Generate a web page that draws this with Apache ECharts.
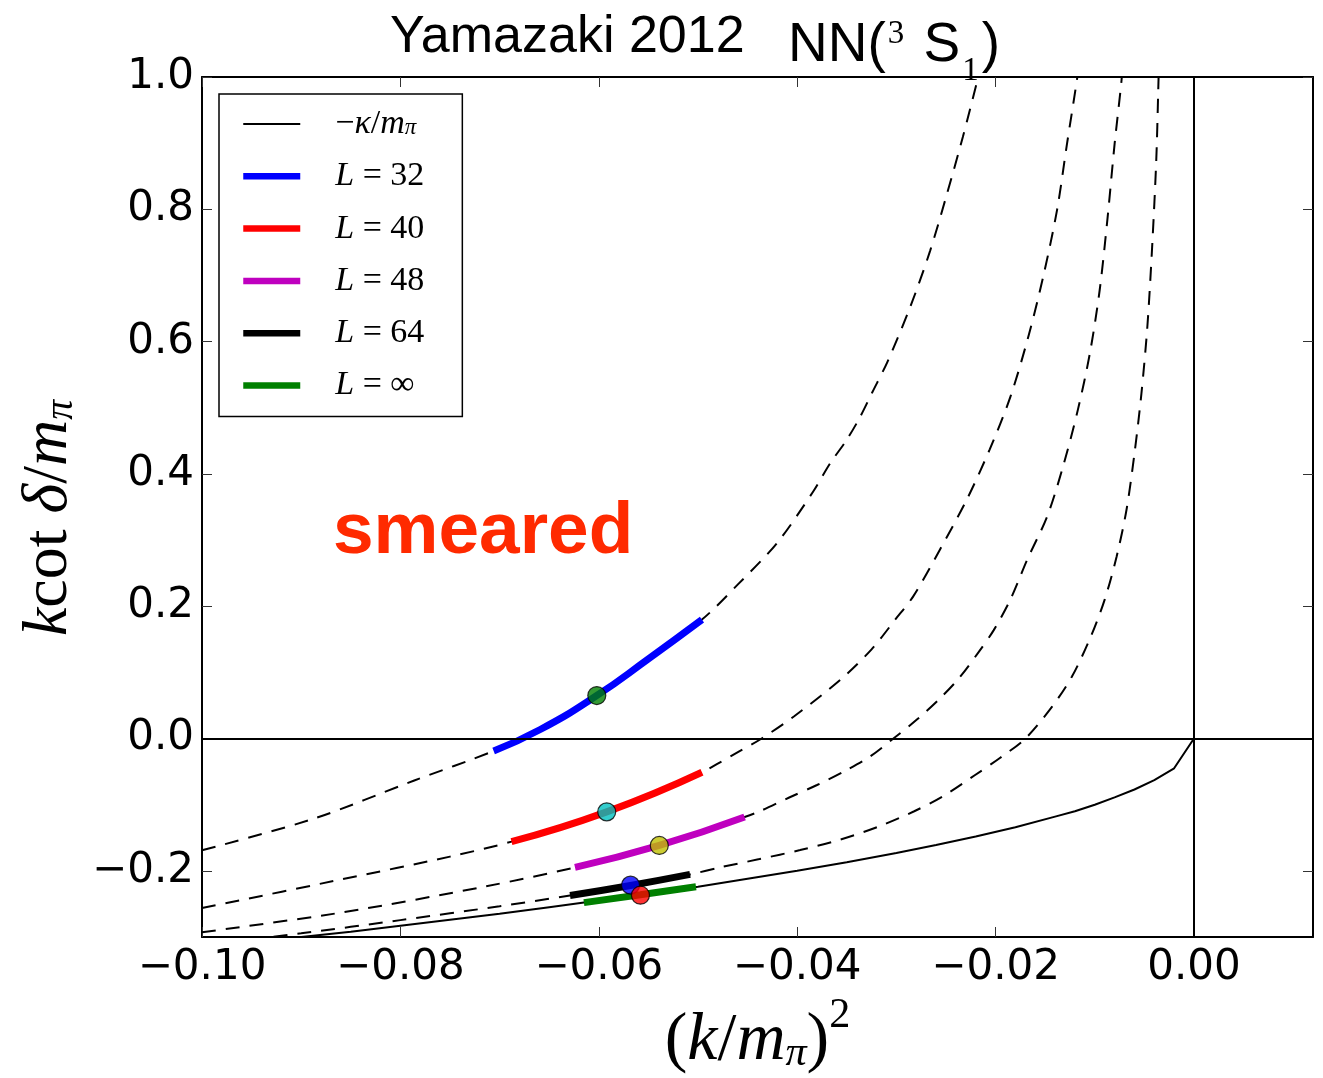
<!DOCTYPE html>
<html>
<head>
<meta charset="utf-8">
<script src="https://cdn.jsdelivr.net/npm/echarts@6/dist/echarts.min.js"></script>
<style>
  html, body { margin: 0; padding: 0; background: #fff; }
  #chart { width: 1323px; height: 1078px; }
</style>
</head>
<body>
<div id="chart"></div>
<script>
// x = (k/m_pi)^2 , y = k cot(delta) / m_pi
const xTicks = [-0.1, -0.08, -0.06, -0.04, -0.02, 0];
const yTicks = [-0.2, 0, 0.2, 0.4, 0.6, 0.8, 1.0];

// solid -kappa/m_pi line
const kappaLine = [[-0.1,-0.316],[-0.095,-0.308],[-0.09,-0.3],[-0.085,-0.292],[-0.08,-0.283],[-0.075,-0.274],
  [-0.07,-0.265],[-0.065,-0.255],[-0.06,-0.245],[-0.055,-0.235],[-0.05,-0.224],[-0.045,-0.212],[-0.04,-0.2],
  [-0.035,-0.187],[-0.03,-0.173],[-0.026,-0.161],[-0.022,-0.148],[-0.018,-0.134],[-0.014,-0.118],[-0.012,-0.11],
  [-0.01,-0.1],[-0.008,-0.089],[-0.006,-0.077],[-0.004,-0.063],[-0.002,-0.045],[0,0]];

// dashed finite volume curves
const dashL32 = [[-0.1,-0.169],[-0.0887,-0.121],[-0.0786,-0.0634],[-0.0706,-0.0189],[-0.0659,0.0136],[-0.0602,0.065],
  [-0.0551,0.1193],[-0.0496,0.1798],[-0.046,0.2326],[-0.042,0.2961],[-0.0384,0.3731],[-0.0367,0.4154],[-0.035,0.4517],
  [-0.0337,0.4849],[-0.0324,0.5242],[-0.0309,0.5695],[-0.0286,0.6526],[-0.0266,0.7372],[-0.0249,0.8233],
  [-0.0233,0.9094],[-0.0218,0.997],[-0.0211,1.041]];
const dashL40 = [[-0.1,-0.2563],[-0.0858,-0.2125],[-0.075,-0.1785],[-0.0688,-0.1558],[-0.0592,-0.1108],[-0.0496,-0.0509],
  [-0.0481,-0.0388],[-0.0458,-0.0192],[-0.0437,-0.0011],[-0.0403,0.0337],[-0.0356,0.0895],[-0.0325,0.1348],
  [-0.0301,0.1801],[-0.0283,0.2149],[-0.0256,0.2858],[-0.0229,0.3613],[-0.0206,0.4368],[-0.0185,0.5168],
  [-0.0167,0.6074],[-0.0152,0.698],[-0.0138,0.7992],[-0.0128,0.8989],[-0.0118,0.9955],[-0.0114,1.0408]];
const dashL48 = [[-0.1,-0.2929],[-0.0858,-0.2627],[-0.0714,-0.2235],[-0.0624,-0.1948],[-0.0539,-0.1616],[-0.0453,-0.1185],
  [-0.0437,-0.1095],[-0.0408,-0.0891],[-0.038,-0.0702],[-0.0353,-0.0498],[-0.0328,-0.0287],[-0.0303,0],
  [-0.0279,0.0291],[-0.0257,0.0593],[-0.0237,0.091],[-0.0218,0.1288],[-0.0202,0.1635],[-0.0185,0.2103],
  [-0.0168,0.2707],[-0.0148,0.3356],[-0.0132,0.4111],[-0.0117,0.4972],[-0.0105,0.5818],[-0.0095,0.6784],
  [-0.0087,0.7886],[-0.008,0.8988],[-0.0073,0.9955],[-0.0071,1.0408]];
const dashL64 = [[-0.1,-0.3125],[-0.09,-0.2945],[-0.08,-0.2745],[-0.07,-0.2535],[-0.0629,-0.2372],[-0.0568,-0.2221],
  [-0.0508,-0.2054],[-0.0478,-0.1948],[-0.0438,-0.1822],[-0.0397,-0.1686],[-0.0357,-0.1529],[-0.0317,-0.1325],
  [-0.0282,-0.1099],[-0.0253,-0.0872],[-0.0221,-0.0555],[-0.0196,-0.0298],[-0.017,0],[-0.0143,0.0483],[-0.0123,0.0937],
  [-0.0104,0.1541],[-0.009,0.21],[-0.0078,0.2749],[-0.0068,0.3459],[-0.006,0.4305],[-0.0053,0.5211],
  [-0.0047,0.6224],[-0.0042,0.7477],[-0.0038,0.8746],[-0.0036,0.9804],[-0.0035,1.0408]];

// thick coloured pieces
const segL32 = [[-0.0706,-0.0189],[-0.0659,0.0136],[-0.0602,0.065],[-0.0551,0.1193],[-0.0496,0.1798]];
const segL40 = [[-0.0688,-0.1558],[-0.0592,-0.1108],[-0.0496,-0.0509]];
const segL48 = [[-0.0624,-0.1948],[-0.0539,-0.1616],[-0.0453,-0.1185]];
const segL64 = [[-0.0629,-0.2372],[-0.0568,-0.2221],[-0.0508,-0.2054]];
const segLinf = [[-0.0615,-0.248],[-0.0558,-0.2362],[-0.0502,-0.224]];

// dots
const dotPoints = [[-0.0602,0.065],[-0.0592,-0.1108],[-0.0539,-0.1616],[-0.0568,-0.2216],[-0.0558,-0.2368]];
const dotColors = ['#008000', '#00bfbf', '#bfbf00', '#0000ff', '#ff0000'];

const legendNames = ['kappa', 'L32', 'L40', 'L48', 'L64', 'Linf'];
const legendTexts = ['{rg|−}{i|κ}{r|/}{i|m}{sub|π}', '{ig|L}{r| = 32}', '{ig|L}{r| = 40}',
  '{ig|L}{r| = 48}', '{ig|L}{r| = 64}', '{ig|L}{r| = ∞}'];

const serif = '"Liberation Serif", "DejaVu Serif", serif';
const minus = (s) => s.replace('-', '\u2212');

const chart = echarts.init(document.getElementById('chart'));

const dashed = (d) => ({
  type: 'line', data: d, symbol: 'none', smooth: 0.3, z: 1, silent: true,
  lineStyle: { color: '#000', width: 2, type: [14, 10] }
});
const seg = (name, d, color) => ({
  name, type: 'line', data: d, symbol: 'none', smooth: true, z: 3, silent: true,
  lineStyle: { color, width: 7 }, itemStyle: { color }
});

const mathRich = (size) => ({
  r: { fontFamily: serif, fontSize: size, color: '#000', lineHeight: 80, verticalAlign: 'bottom' },
  i: { fontFamily: serif, fontStyle: 'italic', fontSize: size, color: '#000', lineHeight: 80, verticalAlign: 'bottom' },
  sub: { fontFamily: serif, fontStyle: 'italic', fontSize: size * 0.62, color: '#000', lineHeight: 18, verticalAlign: 'bottom' },
  sup: { fontFamily: serif, fontSize: size * 0.62, color: '#000', lineHeight: 40, verticalAlign: 'top' }
});

const option = {
  animation: false,
  backgroundColor: '#fff',
  grid: { left: 202, right: 10, top: 77, bottom: 141, containLabel: false, outerBoundsMode: 'none' },
  legend: {
    orient: 'vertical', left: 219, top: 94,
    padding: [13, 38, 14, 21],
    itemWidth: 57, itemHeight: 30, itemGap: 18.3,
    borderColor: '#000', borderWidth: 1.5, borderRadius: 0,
    backgroundColor: '#fff',
    selectedMode: false,
    itemStyle: { opacity: 0 },
    data: legendNames.map((n, i) => ({ name: n, lineStyle: { width: i === 0 ? 2 : 6.5 } })),
    formatter: (n) => legendTexts[legendNames.indexOf(n)],
    textStyle: {
      rich: {
        r: { fontFamily: serif, fontSize: 34, color: '#000', lineHeight: 30 },
        rg: { fontFamily: serif, fontSize: 34, color: '#000', lineHeight: 30, padding: [0, 0, 0, 30] },
        i: { fontFamily: serif, fontStyle: 'italic', fontSize: 34, color: '#000', lineHeight: 30 },
        ig: { fontFamily: serif, fontStyle: 'italic', fontSize: 34, color: '#000', lineHeight: 30, padding: [0, 0, 0, 30] },
        sub: { fontFamily: serif, fontStyle: 'italic', fontSize: 23, color: '#000', lineHeight: 18, verticalAlign: 'bottom' }
      }
    }
  },
  xAxis: [{
    type: 'value', min: -0.1, max: 0.012, position: 'bottom',
    axisLine: { onZero: false, lineStyle: { color: '#000', width: 2 } },
    axisTick: { inside: true, length: 10, lineStyle: { color: '#333', width: 1 }, customValues: xTicks },
    axisLabel: {
      customValues: xTicks, margin: 10, color: '#000', fontFamily: 'DejaVu Sans', fontSize: 42,
      formatter: (v) => minus(v.toFixed(2))
    },
    splitLine: { show: false },
    name: '{r|(}{i|k}{r|/}{i|m}{sub|π}{r|)}{sup|2}',
    nameLocation: 'middle', nameGap: 58,
    nameTextStyle: { rich: mathRich(68) }
  }, {
    type: 'value', min: -0.1, max: 0.012, position: 'top',
    axisLine: { onZero: false, lineStyle: { color: '#000', width: 2 } },
    axisTick: { inside: true, length: 10, lineStyle: { color: '#333', width: 1 }, customValues: xTicks },
    axisLabel: { show: false },
    splitLine: { show: false }
  }],
  yAxis: [{
    type: 'value', min: -0.3, max: 1.0, position: 'left',
    axisLine: { onZero: false, lineStyle: { color: '#000', width: 2 } },
    axisTick: { inside: true, length: 10, lineStyle: { color: '#333', width: 1 }, customValues: yTicks },
    axisLabel: {
      customValues: yTicks, margin: 8, color: '#000', fontFamily: 'DejaVu Sans', fontSize: 42,
      formatter: (v) => minus(v.toFixed(1))
    },
    splitLine: { show: false },
    name: '{i|k}{r|cot }{i|δ}{r|/}{i|m}{sub|π}',
    nameLocation: 'middle', nameGap: 108, nameRotate: 90,
    nameTextStyle: { rich: mathRich(64), padding: [0, 22, 0, 0] }
  }, {
    type: 'value', min: -0.3, max: 1.0, position: 'right',
    axisLine: { onZero: false, lineStyle: { color: '#000', width: 2 } },
    axisTick: { inside: true, length: 10, lineStyle: { color: '#333', width: 1 }, customValues: yTicks },
    axisLabel: { show: false },
    splitLine: { show: false }
  }],
  graphic: [
    { type: 'text', left: 390, top: 12, style: { text: 'Yamazaki 2012', font: '52px "Liberation Sans"', fill: '#000' } },
    {
      type: 'text', left: 788, top: 18,
      style: {
        text: '{a|NN(}{sup|3}{a| S}{sub|1}{a|)}',
        rich: {
          a: { fontFamily: 'Liberation Sans', fontSize: 55, fill: '#000', lineHeight: 62, verticalAlign: 'top' },
          sup: { fontFamily: 'Liberation Serif', fontSize: 33, fill: '#000', lineHeight: 30, verticalAlign: 'top', padding: [0, 4, 0, 2] },
          sub: { fontFamily: 'Liberation Serif', fontSize: 33, fill: '#000', lineHeight: 70, verticalAlign: 'bottom', padding: [0, 3, 0, 2] }
        }
      }
    },
    { type: 'text', left: 333, top: 496, style: { text: 'smeared', font: 'bold 73px "Liberation Sans"', fill: '#ff2a00' } }
  ],
  series: [
    dashed(dashL32), dashed(dashL40), dashed(dashL48), dashed(dashL64),
    {
      name: 'kappa', type: 'line', data: kappaLine, symbol: 'none', z: 2, silent: true,
      lineStyle: { color: '#000', width: 2 }, itemStyle: { color: '#000' },
      markLine: {
        silent: true, symbol: 'none', label: { show: false },
        lineStyle: { color: '#000', width: 2, type: 'solid' },
        data: [{ xAxis: 0 }, { yAxis: 0 }]
      }
    },
    seg('L32', segL32, '#0000ff'),
    seg('L40', segL40, '#ff0000'),
    seg('L48', segL48, '#bf00bf'),
    seg('L64', segL64, '#000000'),
    seg('Linf', segLinf, '#008000'),
    {
      type: 'scatter', z: 4, silent: true, symbolSize: 18,
      data: dotPoints.map((p, i) => ({ value: p, itemStyle: { color: dotColors[i], borderColor: '#000', borderWidth: 1.2 } }))
    }
  ]
};

chart.setOption(option);
</script>
</body>
</html>
